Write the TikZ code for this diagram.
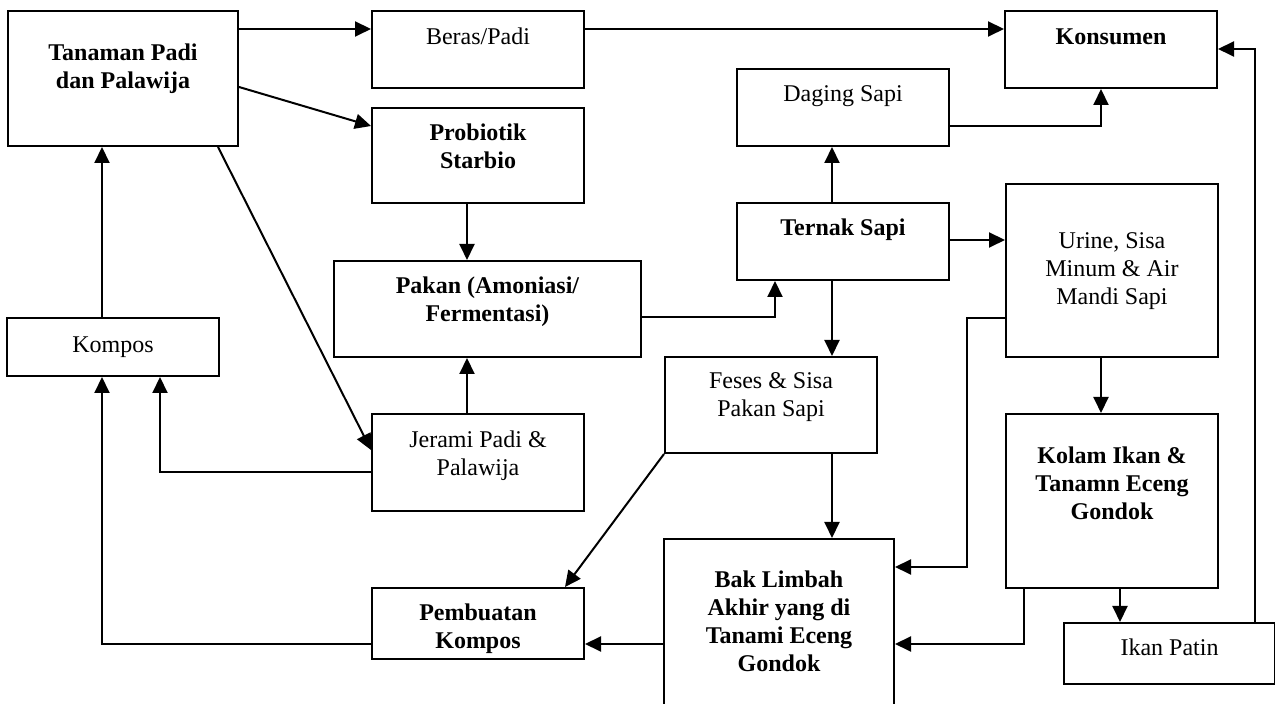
\documentclass[tikz,border=0pt]{standalone}
\usepackage{fontspec}
\setmainfont{Liberation Serif}
\usetikzlibrary{arrows.meta}

\tikzset{
  kotak/.style n args={3}{draw, line width=1pt, inner sep=0pt, anchor=north west,
    execute at begin node={\begin{minipage}[c][\dimexpr#2pt/2\relax][t]{\dimexpr#1pt/2\relax}\centering\rule{0pt}{\dimexpr#3pt/2\relax}},
    execute at end node={\end{minipage}}},
  panah/.style={-{Triangle[length=8pt,width=7.5pt]}, line width=1pt},
}

\begin{document}
\begin{tikzpicture}[x=0.5pt, y=-0.5pt, font=\fontsize{12}{14}\selectfont]

    \useasboundingbox (0,0) rectangle (1275,704);
    \clip (0,0) rectangle (1275,704);

    % Left column
    \node[kotak={230}{135}{50}] (tanaman) at (7,10) {\bfseries Tanaman Padi\\dan Palawija};
    \node[kotak={212}{58}{35}] (kompos) at (6,317) {Kompos};

    % Second column
    \node[kotak={212}{77}{34}] (beras) at (371,10) {Beras/Padi};
    \node[kotak={212}{95}{33}] (probiotik) at (371,107) {\bfseries Probiotik\\Starbio};
    \node[kotak={307}{96}{33}] (pakan) at (333,260) {\bfseries Pakan (Amoniasi/\\Fermentasi)};
    \node[kotak={212}{97}{34}] (jerami) at (371,413) {Jerami Padi \&\\Palawija};
    \node[kotak={212}{71}{33}] (pembuatan) at (371,587) {\bfseries Pembuatan\\Kompos};

    % Middle column
    \node[kotak={212}{77}{33}] (daging) at (736,68) {Daging Sapi};
    \node[kotak={212}{77}{33}] (ternak) at (736,202) {\bfseries Ternak Sapi};
    \node[kotak={212}{96}{32}] (feses) at (664,356) {Feses \& Sisa\\Pakan Sapi};
    \node[kotak={230}{190}{49}] (bak) at (663,538) {\bfseries Bak Limbah\\Akhir yang di\\Tanami Eceng\\Gondok};

    % Right column
    \node[kotak={212}{77}{34}] (konsumen) at (1004,10) {\bfseries Konsumen};
    \node[kotak={212}{173}{65}] (urine) at (1005,183) {Urine, Sisa\\Minum \& Air\\Mandi Sapi};
    \node[kotak={212}{174}{50}] (kolam) at (1005,413) {\bfseries Kolam Ikan \&\\Tanamn Eceng\\Gondok};
    \node[kotak={211}{61}{33}] (ikan) at (1063,622) {Ikan Patin};

    % Edges
    \draw[panah] (tanaman.east |- 0,29) -- (beras.west |- 0,29);
    \draw[panah] (beras.east |- 0,29) -- (konsumen.west |- 0,29);
    \draw[panah] (tanaman.east |- 0,87) -- (probiotik.west |- 0,126);
    \draw[panah] (tanaman.south -| 218,0) -- (jerami.west |- 0,450);
    \draw[panah] (kompos.north -| 102,0) -- (tanaman.south -| 102,0);
    \draw[panah] (probiotik.south -| 467,0) -- (pakan.north -| 467,0);
    \draw[panah] (jerami.north -| 467,0) -- (pakan.south -| 467,0);
    \draw[panah] (jerami.west |- 0,472) -| (kompos.south -| 160,0);
    \draw[panah] (pakan.east |- 0,317) -| (ternak.south -| 775,0);
    \draw[panah] (ternak.north -| 832,0) -- (daging.south -| 832,0);
    \draw[panah] (daging.east |- 0,126) -| (konsumen.south -| 1101,0);
    \draw[panah] (ternak.east |- 0,240) -- (urine.west |- 0,240);
    \draw[panah] (ternak.south -| 832,0) -- (feses.north -| 832,0);
    \draw[panah] (urine.west |- 0,318) -| (967,567) -- (bak.east |- 0,567);
    \draw[panah] (urine.south -| 1101,0) -- (kolam.north -| 1101,0);
    \draw[panah] (feses.south -| 832,0) -- (bak.north -| 832,0);
    \draw[panah] (feses.south west) -- (pembuatan.north -| 565,0);
    \draw[panah] (kolam.south -| 1024,0) |- (bak.east |- 0,644);
    \draw[panah] (kolam.south -| 1120,0) -- (ikan.north -| 1120,0);
    \draw[panah] (ikan.north -| 1255,0) |- (konsumen.east |- 0,49);
    \draw[panah] (bak.west |- 0,644) -- (pembuatan.east |- 0,644);
    \draw[panah] (pembuatan.west |- 0,644) -| (kompos.south -| 102,0);

\end{tikzpicture}
\end{document}
